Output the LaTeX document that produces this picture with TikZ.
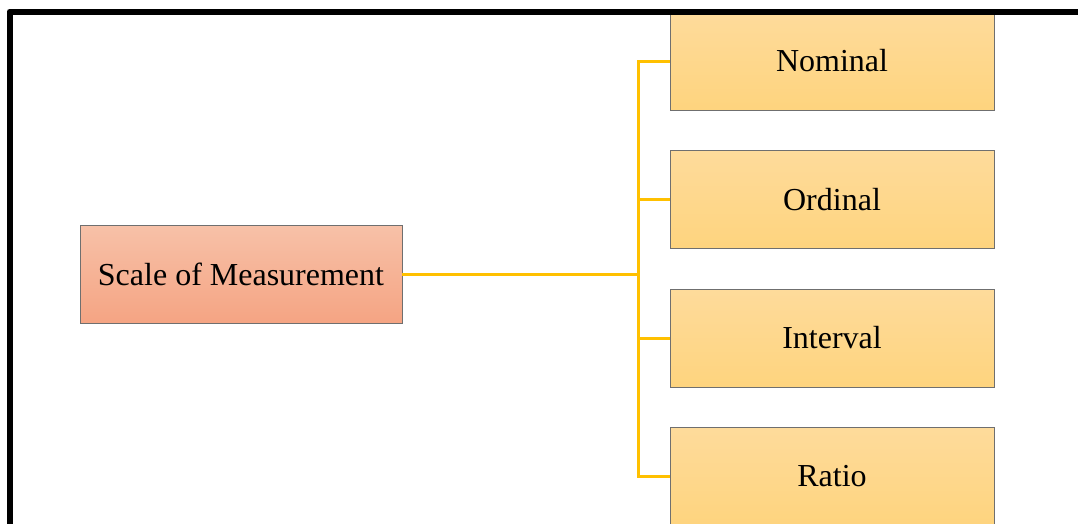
\documentclass[tikz,border=0pt]{standalone}
\usepackage{fontspec}
\setmainfont{Liberation Serif}
\definecolor{linkgold}{HTML}{FFC000}
\definecolor{leaftop}{HTML}{FEDB9B}
\definecolor{leafbot}{HTML}{FED47E}
\definecolor{roottop}{HTML}{F7C1A8}
\definecolor{rootbot}{HTML}{F5A483}
\definecolor{boxedge}{HTML}{6F6F6F}
\tikzset{
  basebox/.style={rectangle, draw=boxedge, line width=0.8pt, inner sep=0pt,
    minimum height=98pt, font=\fontsize{32}{38}\selectfont},
  leafbox/.style={basebox, minimum width=324pt, top color=leaftop, bottom color=leafbot},
  rootbox/.style={basebox, minimum width=322pt, top color=roottop, bottom color=rootbot},
  conn/.style={draw=linkgold, line width=3pt},
  frame/.style={draw=black, line width=6pt, line join=round}
}
\begin{document}
\begin{tikzpicture}[x=1pt,y=-1pt]
  \useasboundingbox (0,0) rectangle (1078,523);
  \clip (0,0) rectangle (1078,523);
  \fill[white] (0,0) rectangle (1078,523);

  % root and the four scale types
  \node[rootbox] (root) at (241,274) {Scale of Measurement};
  \node[leafbox] (nominal)  at (832,61)    {Nominal};
  \node[leafbox] (ordinal)  at (832,199.5) {Ordinal};
  \node[leafbox] (interval) at (832,338)   {Interval};
  \node[leafbox] (ratio)    at (832,476.5) {Ratio};

  % bracket connectors
  \coordinate (bustop) at (638.5,61);
  \coordinate (busbot) at (638.5,476.5);
  \draw[conn] (root.east) -- (root.east -| bustop);
  \draw[conn, line cap=rect] (bustop) -- (busbot);
  \foreach \n in {nominal,ordinal,interval,ratio}
    \draw[conn] (\n.west) -- (\n.west -| bustop);

  % outer frame
  \draw[frame] (9.5,540) -- (9.5,11.5) -- (1100,11.5);
\end{tikzpicture}
\end{document}
